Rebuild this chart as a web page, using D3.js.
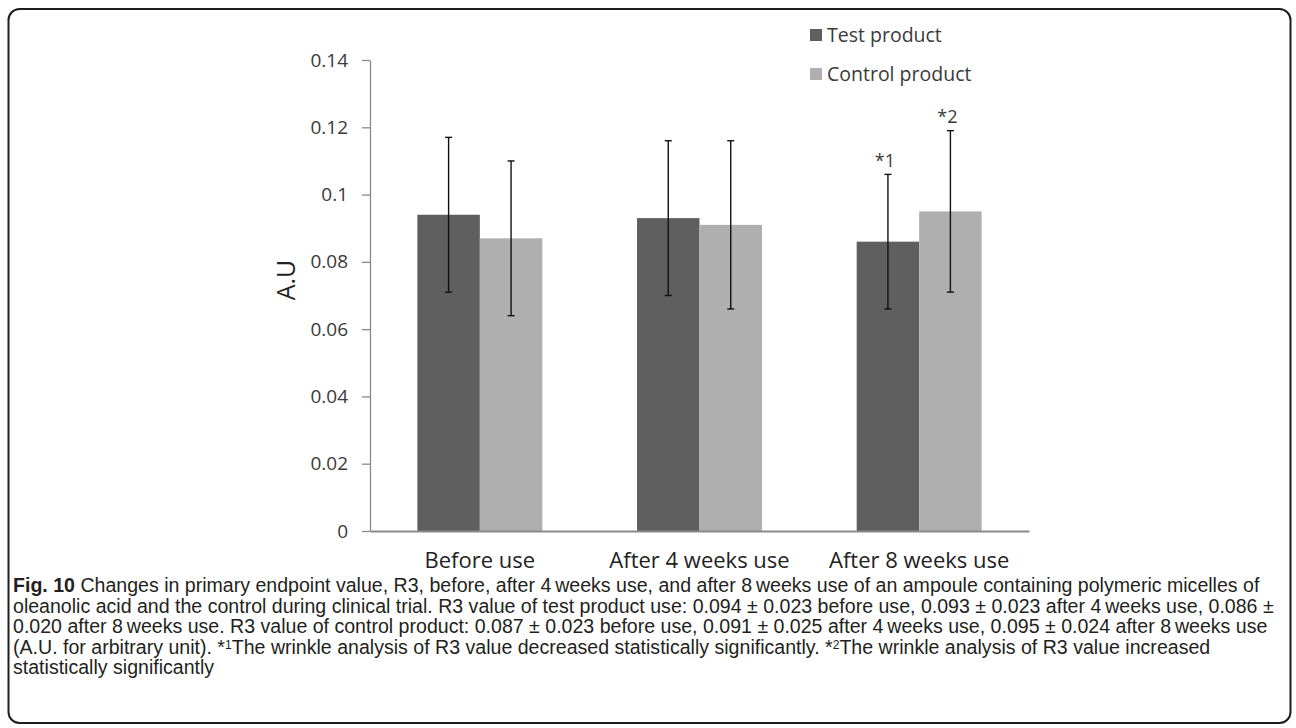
<!DOCTYPE html>
<html>
<head>
<meta charset="utf-8">
<script src="https://cdn.jsdelivr.net/npm/d3@7"></script>
<style>
  body { margin: 0; background: #fff; }
  svg { display: block; }
</style>
</head>
<body>
<svg id="chart" width="1296" height="728"></svg>
<script>
// R3 wrinkle parameter, mean ± SD per visit
const categories = ["Before use", "After 4 weeks use", "After 8 weeks use"];
const seriesNames = ["Test product", "Control product"];
const testMeans = [0.094, 0.093, 0.086];
const testSD = [0.023, 0.023, 0.020];
const controlMeans = [0.087, 0.091, 0.095];
const controlSD = [0.023, 0.025, 0.024];
const testMarks = ["", "", "*1"];
const controlMarks = ["", "", "*2"];
const yTicks = [0, 0.02, 0.04, 0.06, 0.08, 0.1, 0.12, 0.14];
const yTickLabels = ["0", "0.02", "0.04", "0.06", "0.08", "0.1", "0.12", "0.14"];
const yLabel = "A.U";

const captionLines = [
  [{b: true, t: "Fig. 10"}, {t: " Changes in primary endpoint value, R3, before, after 4\u2009weeks use, and after 8\u2009weeks use of an ampoule containing polymeric micelles of"}],
  [{t: "oleanolic acid and the control during clinical trial. R3 value of test product use: 0.094 \u00b1 0.023 before use, 0.093 \u00b1 0.023 after 4\u2009weeks use, 0.086 \u00b1"}],
  [{t: "0.020 after 8\u2009weeks use. R3 value of control product: 0.087 \u00b1 0.023 before use, 0.091 \u00b1 0.025 after 4\u2009weeks use, 0.095 \u00b1 0.024 after 8\u2009weeks use"}],
  [{t: "(A.U. for arbitrary unit). *"}, {sup: "1"}, {t: "The wrinkle analysis of R3 value decreased statistically significantly. *"}, {sup: "2"}, {t: "The wrinkle analysis of R3 value increased"}],
  [{t: "statistically significantly"}]
];

const colors = {"Test product": "#5f5f5f", "Control product": "#afafaf"};
const axisColor = "#8a8a8a";
const textColor = "#3a3a3a";
const chartFont = "'Open Sans', 'Noto Sans', sans-serif";

const rows = categories.map((c, i) => ({
  category: c,
  values: [
    {series: seriesNames[0], mean: testMeans[i], sd: testSD[i], mark: testMarks[i]},
    {series: seriesNames[1], mean: controlMeans[i], sd: controlSD[i], mark: controlMarks[i]}
  ]
}));

const svg = d3.select("#chart");

// outer frame
svg.append("rect")
  .attr("x", 8.5).attr("y", 9).attr("width", 1282).attr("height", 714)
  .attr("rx", 11).attr("ry", 11)
  .attr("fill", "#fff").attr("stroke", "#1e1e1e").attr("stroke-width", 2);

const plot = {left: 370, right: 1029, top: 60, bottom: 531};

const x0 = d3.scaleBand().domain(categories).range([plot.left, plot.right]).padding(0);
const x1 = d3.scaleBand().domain(seriesNames).range([0, x0.bandwidth()])
  .paddingInner(0).paddingOuter(0.758);
const y = d3.scaleLinear().domain([0, 0.14]).range([plot.bottom, plot.top]);

// bars
const groups = svg.append("g").selectAll("g").data(rows).join("g")
  .attr("transform", d => `translate(${x0(d.category)},0)`);

groups.selectAll("rect").data(d => d.values).join("rect")
  .attr("x", d => x1(d.series))
  .attr("y", d => y(d.mean))
  .attr("width", x1.bandwidth())
  .attr("height", d => y(0) - y(d.mean))
  .attr("fill", d => colors[d.series]);

// error bars
const capHalf = 3.5;
const eb = groups.selectAll("g.err").data(d => d.values).join("g").attr("class", "err")
  .attr("stroke", "#111").attr("stroke-width", 1.4);
eb.append("line")
  .attr("x1", d => x1(d.series) + x1.bandwidth() / 2)
  .attr("x2", d => x1(d.series) + x1.bandwidth() / 2)
  .attr("y1", d => y(d.mean + d.sd))
  .attr("y2", d => y(d.mean - d.sd));
eb.append("line")
  .attr("x1", d => x1(d.series) + x1.bandwidth() / 2 - capHalf)
  .attr("x2", d => x1(d.series) + x1.bandwidth() / 2 + capHalf)
  .attr("y1", d => y(d.mean + d.sd)).attr("y2", d => y(d.mean + d.sd));
eb.append("line")
  .attr("x1", d => x1(d.series) + x1.bandwidth() / 2 - capHalf)
  .attr("x2", d => x1(d.series) + x1.bandwidth() / 2 + capHalf)
  .attr("y1", d => y(d.mean - d.sd)).attr("y2", d => y(d.mean - d.sd));

// significance marks above the error bars
groups.selectAll("text.mark").data(d => d.values.filter(v => v.mark)).join("text")
  .attr("class", "mark")
  .attr("x", d => x1(d.series) + x1.bandwidth() / 2 - 3)
  .attr("y", d => y(d.mean + d.sd) - 7.5)
  .attr("text-anchor", "middle")
  .attr("font-family", chartFont).attr("font-size", 18)
  .attr("fill", textColor)
  .text(d => d.mark);

// y axis
const yAxis = svg.append("g")
  .attr("transform", `translate(${plot.left},0)`)
  .call(d3.axisLeft(y).tickValues(yTicks)
    .tickFormat((d, i) => yTickLabels[i])
    .tickSize(8).tickSizeOuter(0).tickPadding(14));
yAxis.select(".domain").attr("stroke", axisColor).attr("stroke-width", 1.3);
yAxis.selectAll(".tick line").attr("stroke", axisColor).attr("stroke-width", 1.3);
yAxis.selectAll(".tick text")
  .attr("font-family", chartFont).attr("font-size", 19).attr("fill", textColor);

// x axis
const xAxis = svg.append("g")
  .attr("transform", `translate(0,${plot.bottom})`)
  .call(d3.axisBottom(x0).tickSize(0).tickSizeOuter(0).tickPadding(21));
xAxis.select(".domain").attr("stroke", axisColor).attr("stroke-width", 2);
xAxis.selectAll(".tick text")
  .attr("font-family", chartFont).attr("font-size", 22).attr("fill", "#222");

// y axis title
svg.append("text")
  .attr("transform", "translate(295,280) rotate(-90)")
  .attr("text-anchor", "middle")
  .attr("font-family", chartFont).attr("font-size", 25).attr("fill", "#222")
  .text(yLabel);

// legend
const legend = svg.append("g").attr("transform", "translate(810,29)");
const li = legend.selectAll("g").data(seriesNames).join("g")
  .attr("transform", (d, i) => `translate(0,${i * 39})`);
li.append("rect").attr("width", 12).attr("height", 12).attr("fill", d => colors[d]);
li.append("text").attr("x", 17).attr("y", 6).attr("dy", "0.35em")
  .attr("font-family", chartFont).attr("font-size", 19.5).attr("fill", textColor)
  .text(d => d);

// caption
const capFont = "'Liberation Sans', Arial, sans-serif";
const caption = svg.append("g").attr("fill", "#231f20");
const supShift = 5;
const lineTexts = captionLines.map((segs, i) => {
  const t = caption.append("text")
    .attr("x", 13).attr("y", 592 + i * 20.6)
    .attr("font-family", capFont).attr("font-size", 17);
  let pending = 0;
  segs.forEach(s => {
    if (s.sup) {
      t.append("tspan").attr("dy", -supShift).attr("font-size", "0.62em").text(s.sup);
      pending = supShift;
    } else {
      const sp = t.append("tspan").attr("font-weight", s.b ? 700 : 400).text(s.t);
      if (pending) { sp.attr("dy", pending); pending = 0; }
    }
  });
  return t;
});
// size the caption so the first line spans the frame's text width
const w0 = lineTexts[0].node().getComputedTextLength();
const fs = 17 * 1247 / w0;
lineTexts.forEach(t => t.attr("font-size", fs));
</script>
</body>
</html>
